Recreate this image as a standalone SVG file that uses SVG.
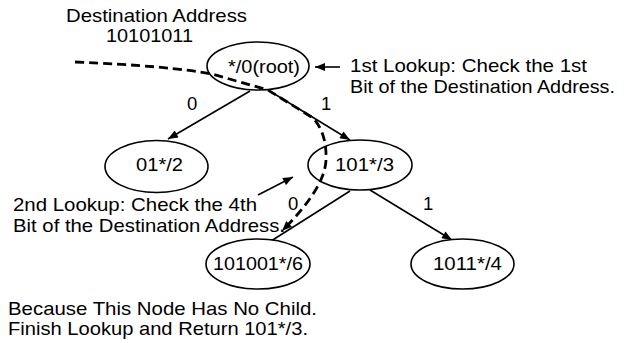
<svg xmlns="http://www.w3.org/2000/svg" width="624" height="343" viewBox="0 0 624 343">
<style>
text{font-family:"Liberation Sans",Arial,Helvetica,sans-serif;font-size:18.5px;fill:#000}
.node ellipse{fill:#fff;stroke:#000;stroke-width:1.6}
.edge{stroke:#000;stroke-width:1.6;fill:none}
.dash{stroke:#000;stroke-width:2.8;fill:none;stroke-dasharray:9 5}
</style>
<defs>
<marker id="ah" viewBox="0 0 10 8" refX="10" refY="4" markerWidth="11" markerHeight="8" markerUnits="userSpaceOnUse" orient="auto">
<path d="M0,0 L10,4 L0,8 Z" fill="#000"/>
</marker>
</defs>
<rect width="624" height="343" fill="#fff"/>
<g id="connectors">
<path class="edge" d="M250,91 L168,139" marker-end="url(#ah)"/>
<path class="edge" d="M268,90 L350,140" marker-end="url(#ah)"/>
<path class="edge" d="M350,191 L260,248" marker-end="url(#ah)"/>
<path class="edge" d="M370,190 L452,240" marker-end="url(#ah)"/>
<path class="edge" d="M340,67 L315,67" marker-end="url(#ah)"/>
<path class="edge" d="M258,195 L293,177" marker-end="url(#ah)"/>
<text x="187" y="110">0</text>
<text x="321" y="110">1</text>
<text x="288" y="210">0</text>
<text x="423" y="210">1</text>
</g>
<g id="n-root" class="node">
<ellipse cx="258" cy="66" rx="51" ry="24"/>
<text x="228" y="73" textLength="72" lengthAdjust="spacingAndGlyphs">*/0(root)</text>
</g>
<g id="n-01" class="node">
<ellipse cx="156.5" cy="166.5" rx="51.5" ry="26"/>
<text x="136" y="171" textLength="47" lengthAdjust="spacingAndGlyphs">01*/2</text>
</g>
<g id="n-101" class="node">
<ellipse cx="360" cy="165" rx="52" ry="25"/>
<text x="335" y="171" textLength="59" lengthAdjust="spacingAndGlyphs">101*/3</text>
</g>
<g id="n-101001" class="node">
<ellipse cx="258" cy="264" rx="52" ry="25"/>
<text x="213" y="270" textLength="90" lengthAdjust="spacingAndGlyphs">101001*/6</text>
</g>
<g id="n-1011" class="node">
<ellipse cx="462.5" cy="264" rx="51.5" ry="25"/>
<text x="433" y="270" textLength="69" lengthAdjust="spacingAndGlyphs">1011*/4</text>
</g>
<g id="lookup-path">
<path class="dash" d="M75,62 Q170,66 212,74 L268,90 L313,118 Q327,133 326,160 Q325,188 282,231" marker-end="url(#ah)"/>
</g>
<g id="notes">
<text x="66" y="22" textLength="181" lengthAdjust="spacingAndGlyphs">Destination Address</text>
<text x="106" y="42" textLength="87" lengthAdjust="spacingAndGlyphs">10101011</text>
<text x="350" y="72" textLength="237" lengthAdjust="spacingAndGlyphs">1st Lookup: Check the 1st</text>
<text x="350" y="93" textLength="265" lengthAdjust="spacingAndGlyphs">Bit of the Destination Address.</text>
<text x="13" y="211" textLength="244" lengthAdjust="spacingAndGlyphs">2nd Lookup: Check the 4th</text>
<text x="13" y="232" textLength="272" lengthAdjust="spacingAndGlyphs">Bit of the Destination Address.</text>
<text x="8" y="315" textLength="309" lengthAdjust="spacingAndGlyphs">Because This Node Has No Child.</text>
<text x="8" y="335" textLength="300" lengthAdjust="spacingAndGlyphs">Finish Lookup and Return 101*/3.</text>
</g>
</svg>
